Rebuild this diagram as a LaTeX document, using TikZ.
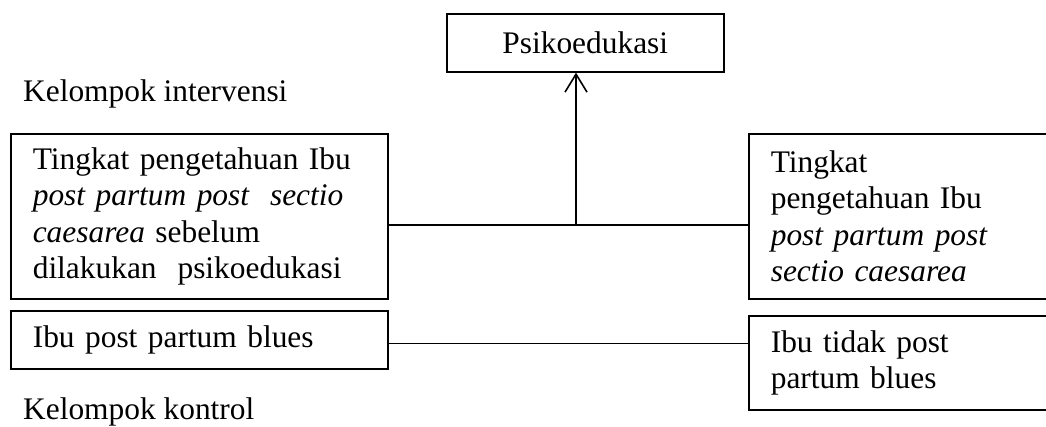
\documentclass[tikz,border=0pt]{standalone}
\usepackage{fontspec}
\setmainfont{Liberation Serif}
\usetikzlibrary{arrows.meta}
\begin{document}
\begin{tikzpicture}[x=1pt,y=-1pt,
  txt/.style={font=\fontsize{31.4pt}{36.5pt}\selectfont},
  box/.style={txt,draw,line width=1.6pt,rectangle,anchor=north west,
    inner xsep=22pt,inner ysep=0pt,align=left},
  label/.style={txt,anchor=base west,inner sep=0pt},
  link/.style={line width=1.3pt},
  arr/.style={line width=1.6pt,-{Straight Barb[length=18pt,width=22pt,line width=1.6pt]}}]
\useasboundingbox (0,0) rectangle (1046,426);
\clip (0,0) rectangle (1046,426);

% intervention branch
\node[box,text width=233pt,minimum height=58pt,align=center] (psi) at (446,13) {Psikoedukasi};
\node[label] (ki) at (23,101) {Kelompok intervensi};
\node[box,text width=333pt,minimum height=165pt] (pre) at (10,133)
  {Tingkat pengetahuan Ibu\\
   \textit{post partum post\ \ sectio}\\
   \textit{caesarea} sebelum\\
   dilakukan\ \ psikoedukasi};
\node[box,text width=258pt,minimum height=165pt] (post) at (748,133)
  {Tingkat\\
   pengetahuan Ibu\\
   \textit{post partum post}\\
   \textit{sectio caesarea}};

% control branch
\node[box,text width=333pt,minimum height=58pt] (blues) at (10,310)
  {Ibu post partum blues};
\node[box,text width=258pt,minimum height=94pt] (noblues) at (748,315)
  {Ibu tidak post\\ partum blues};
\node[label] (kk) at (23,419) {Kelompok kontrol};

% connectors
\coordinate (j) at (576,225);
\coordinate (k) at (576,343.5);
\draw[link] (j -| pre.east) -- (j -| post.west);
\draw[arr] (j) -- (j |- psi.south);
\draw[link] (k -| blues.east) -- (k -| noblues.west);
\end{tikzpicture}
\end{document}
